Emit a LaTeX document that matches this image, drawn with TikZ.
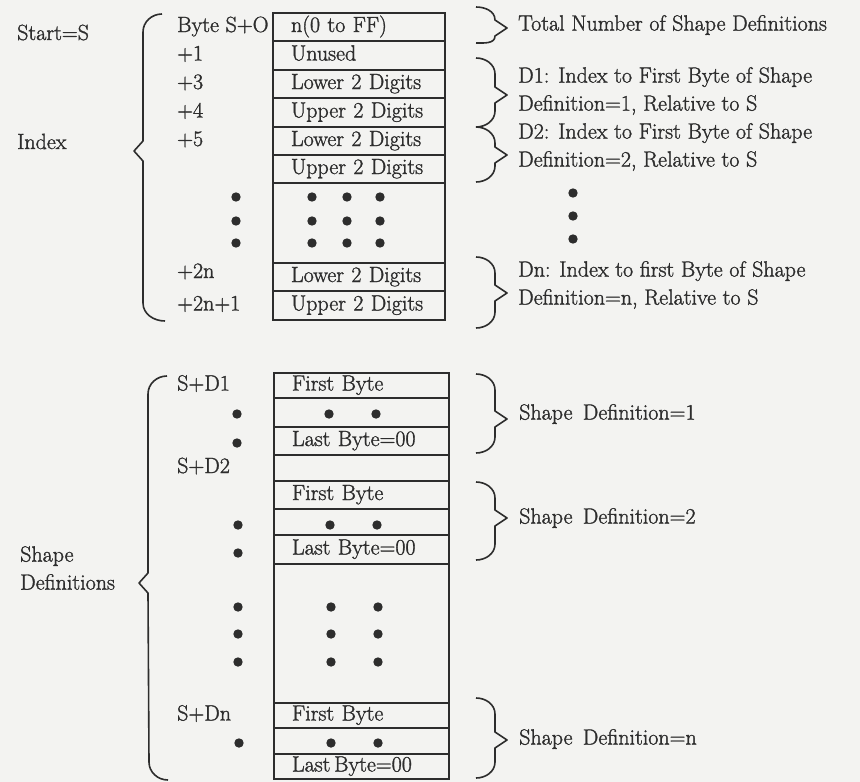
\documentclass[tikz,border=0pt]{standalone}
\usepackage{fontspec}
\setmainfont{Latin Modern Roman}[FakeBold=1.4]
\usetikzlibrary{positioning}

\definecolor{ink}{RGB}{45,45,45}
\definecolor{paper}{RGB}{243,243,241}

\begin{document}
\begin{tikzpicture}[
  x=1pt, y=-1pt,
  font=\fontsize{22}{28}\selectfont,
  every node/.style={text=ink},
  cell/.style={draw=ink,line width=1.3pt,outer sep=0pt,anchor=north west,inner ysep=0pt,
    inner xsep=18pt,text width=136pt,align=left,text height=15pt,text depth=5pt},
  cellb/.style={cell,text width=139pt},
  rowh/.style={minimum height=#1},
  addr/.style={anchor=west,inner sep=0pt,text height=15pt,text depth=5pt},
  note/.style={anchor=west,inner sep=0pt,align=left},
  brace/.style={draw=ink,line width=1.6pt,line join=round},
  dot/.style={fill=ink}
]
  \useasboundingbox (0,0) rectangle (860,782);
  \fill[paper] (0,0) rectangle (860,782);

  % index table
  \node[cell,rowh=28pt] (n0) at (273,13) {n(0 to FF)};
  \node[cell,rowh=29pt,below=0pt of n0] (unused) {Unused};
  \node[cell,rowh=28pt,below=0pt of unused] (lo1) {Lower 2 Digits};
  \node[cell,rowh=29pt,below=0pt of lo1] (hi1) {Upper 2 Digits};
  \node[cell,rowh=28pt,below=0pt of hi1] (lo2) {Lower 2 Digits};
  \node[cell,rowh=28pt,below=0pt of lo2] (hi2) {Upper 2 Digits};
  \node[cell,rowh=80pt,below=0pt of hi2] (idots) {};
  \node[cell,rowh=28pt,below=0pt of idots] (lon) {Lower 2 Digits};
  \node[cell,rowh=29pt,below=0pt of lon] (hin) {Upper 2 Digits};

  % shape definitions table
  \node[cellb,rowh=25pt] (f1) at (274,373) {First Byte};
  \node[cellb,rowh=29pt,below=0pt of f1] (m1) {};
  \node[cellb,rowh=28pt,below=0pt of m1] (l1) {Last Byte=00};
  \node[cellb,rowh=26pt,below=0pt of l1] (g1) {};
  \node[cellb,rowh=28pt,below=0pt of g1] (f2) {First Byte};
  \node[cellb,rowh=26pt,below=0pt of f2] (m2) {};
  \node[cellb,rowh=29pt,below=0pt of m2] (l2) {Last Byte=00};
  \node[cellb,rowh=139pt,below=0pt of l2] (g2) {};
  \node[cellb,rowh=25pt,below=0pt of g2] (fn) {First Byte};
  \node[cellb,rowh=26pt,below=0pt of fn] (mn) {};
  \node[cellb,rowh=25pt,below=0pt of mn] (ln) {Last\,Byte=00};

  % offsets
  \coordinate (acol) at (177,0);
  \node[addr] (a0) at (acol |- n0) {Byte S+O};
  \node[addr] (a1) at (acol |- unused) {+1};
  \node[addr] (a3) at (acol |- lo1) {+3};
  \node[addr] (a4) at (acol |- hi1) {+4};
  \node[addr] (a5) at (acol |- lo2) {+5};
  \node[addr,yshift=4pt] (a2n) at (acol |- lon) {+2n};
  \node[addr] (a2n1) at (acol |- hin) {+2n+1};
  \node[addr] (sd1) at (acol |- f1) {S+D1};
  \node[addr] (sd2) at (acol |- g1) {S+D2};
  \node[addr] (sdn) at (acol |- fn) {S+Dn};

  % left side
  \node[addr] (start) at (17,35) {Start=S};
  \node[addr] (index) at (17,144) {Index};
  \node[note] (shapes) at (20,568) {Shape\\Definitions};

  \draw[brace] (162,14) to[out=180,in=90] (143,32) -- (143,141) -- (134,151)
    -- (143,161) -- (143,303) to[out=-90,in=180] (165,321);
  \draw[brace] (167,376) to[out=180,in=90] (148,394) -- (148,573) -- (139,583)
    -- (148,593) -- (149,762) to[out=-90,in=180] (168,780);

  % right side
  \foreach \ya/\yn/\yb in {7/28/43, 58/95/127, 127/155/182, 257/293/328,
                           374/419/453, 482/518/560, 698/740/778}
    \draw[brace] (476,\ya) to[out=0,in=90] (495,{min(\ya+16,\yn-8)}) -- (495,\yn-8)
      -- (507,\yn) -- (495,\yn+8) -- (495,{max(\yb-16,\yn+8)}) to[out=-90,in=0] (476,\yb);

  \node[note] (total) at (518,25) {Total Number of Shape Definitions};
  \node[note] (d1) at (518,91) {D1: Index to First Byte of Shape\\Definition=1, Relative to S};
  \node[note] (d2) at (518,147) {D2: Index to First Byte of Shape\\Definition=2, Relative to S};
  \node[note] (dn) at (518,285) {Dn: Index to first Byte of Shape\\Definition=n, Relative to S};
  \node[note] (def1) at (519,414) {Shape\ \,Definition=1};
  \node[note] (def2) at (519,518) {Shape\ \,Definition=2};
  \node[note] (defn) at (519,739) {Shape\ \,Definition=n};

  % dots
  \foreach \y in {197,221,243}
    \foreach \x in {236,312,347,380}
      \fill[dot] (\x,\y) circle (4.7pt);
  \foreach \y in {193,216,239}
    \fill[dot] (573,\y) circle (4.7pt);
  \foreach \x/\y in {237/414, 329/414, 376/414, 237/443,
                     238/525, 330/525, 377/525, 238/553,
                     238/607, 331/607, 378/607, 238/634, 331/634, 378/634,
                     238/662, 331/662, 378/662,
                     239/743, 331/743, 378/743}
    \fill[dot] (\x,\y) circle (4.7pt);
\end{tikzpicture}
\end{document}
